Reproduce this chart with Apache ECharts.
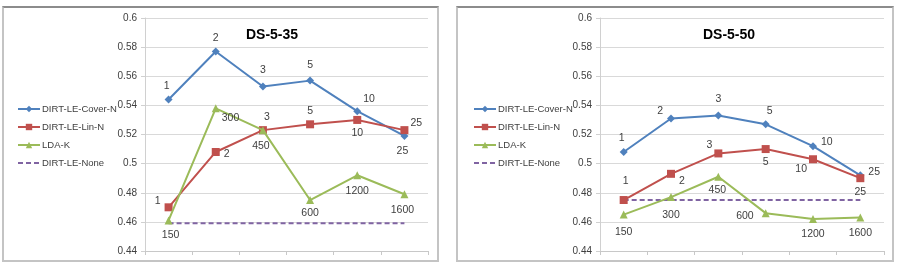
<!DOCTYPE html>
<html>
<head>
<meta charset="utf-8">
<script src="https://cdn.jsdelivr.net/npm/echarts@6/dist/echarts.min.js"></script>
<style>
  body { margin: 0; background: #fff; }
  .panel { position: absolute; top: 6px; height: 252px; border: 2px solid #c4c4c4; border-top-color: #8c8c8c; background: #fff; }
  #left { left: 2px; width: 433px; }
  #right { left: 456px; width: 434px; }
</style>
</head>
<body>
<div id="left" class="panel"></div>
<div id="right" class="panel"></div>
<script>
// 数据
const categories = ['c1', 'c2', 'c3', 'c4', 'c5', 'c6'];
const seriesNames = ['DIRT-LE-Cover-N', 'DIRT-LE-Lin-N', 'LDA-K', 'DIRT-LE-None'];

// DS-5-35
const coverN35 = [0.544, 0.577, 0.553, 0.557, 0.536, 0.519];
const linN35 = [0.470, 0.508, 0.523, 0.527, 0.530, 0.523];
const ldaK35 = [0.461, 0.538, 0.523, 0.475, 0.492, 0.479];
const none35 = [0.459, 0.459, 0.459, 0.459, 0.459, 0.459];

// DS-5-50
const coverN50 = [0.508, 0.531, 0.533, 0.527, 0.512, 0.492];
const linN50 = [0.475, 0.493, 0.507, 0.510, 0.503, 0.490];
const ldaK50 = [0.465, 0.477, 0.491, 0.466, 0.462, 0.463];
const none50 = [0.475, 0.475, 0.475, 0.475, 0.475, 0.475];

// 点标签文字
const nLabels = ['1', '2', '3', '5', '10', '25'];
const kLabels = ['150', '300', '450', '600', '1200', '1600'];

// 标签位置 [position, dx, dy]
const place35 = {
  cover: [['top', -2, 0], ['top', 0, 0], ['top', 0, -3], ['top', 0, -2], ['right', -2, -12], ['bottom', -2, 2]],
  lin: [['left', 0, -6], ['right', 0, 2], ['top', 4, 0], ['top', 0, 0], ['bottom', 0, 0], ['right', -2, -7]],
  lda: [['bottom', 2, 1], ['right', -2, 10], ['bottom', -2, 2], ['bottom', 0, 0], ['bottom', 0, 2], ['bottom', -2, 2]]
};
const place50 = {
  cover: [['top', -2, 0], ['left', 0, -7], ['top', 0, -3], ['top', 4, 0], ['right', 0, -4], ['right', 0, -3]],
  lin: [['top', 2, -5], ['right', 0, 7], ['left', 2, -8], ['bottom', 0, 0], ['left', 2, 10], ['bottom', 0, 0]],
  lda: [['bottom', 0, 4], ['bottom', 0, 4], ['bottom', -1, 0], ['left', -4, 3], ['bottom', 0, 2], ['bottom', 0, 2]]
};

const colors = ['#4f81bd', '#c0504d', '#9bbb59', '#8064a2'];
const font = 'Liberation Sans, Arial, sans-serif';

function points(values, texts, place) {
  return values.map((v, i) => ({
    value: v,
    label: {
      position: place[i][0],
      offset: [place[i][1], place[i][2]],
      formatter: texts[i]
    }
  }));
}

function makeOption(title, titleX, cover, lin, lda, none, place, gridLeft, gridRight, legendLeft) {
  const lineSeries = (idx, data, symbol, size) => ({
    name: seriesNames[idx],
    type: 'line',
    data: data,
    symbol: symbol,
    symbolSize: size,
    lineStyle: { width: 2, color: colors[idx] },
    itemStyle: { color: colors[idx] },
    label: { show: true, fontSize: 10.5, color: '#404040', fontFamily: font, distance: 4 },
    emphasis: { disabled: true },
    z: 3 + idx
  });
  return {
    animation: false,
    title: {
      text: title,
      left: titleX,
      top: 15,
      textAlign: 'center',
      textStyle: { fontSize: 14, fontWeight: 'bold', color: '#000', fontFamily: font }
    },
    legend: {
      orient: 'vertical',
      left: legendLeft,
      top: 91,
      itemWidth: 22,
      itemHeight: 8,
      itemGap: 8,
      data: seriesNames.slice(0, 3).concat([{ name: seriesNames[3], itemStyle: { opacity: 0 } }]),
      textStyle: { fontSize: 9.5, color: '#404040', fontFamily: font, padding: [0, 0, 0, -3] }
    },
    grid: { left: gridLeft, right: gridRight, top: 10, bottom: 9 },
    xAxis: {
      type: 'category',
      data: categories,
      boundaryGap: true,
      axisLine: { lineStyle: { color: '#c8c8c8' } },
      axisTick: { show: true, length: 4, lineStyle: { color: '#c8c8c8' } },
      axisLabel: { show: false },
      splitLine: { show: false }
    },
    yAxis: {
      type: 'value',
      min: 0.44,
      max: 0.6,
      interval: 0.02,
      axisLine: { show: true, lineStyle: { color: '#d0d0d0' } },
      axisTick: { show: true, length: 4, lineStyle: { color: '#d0d0d0' } },
      axisLabel: { fontSize: 10, color: '#404040', fontFamily: font, margin: 8, formatter: v => String(+v.toFixed(2)) },
      splitLine: { lineStyle: { color: '#d9d9d9' } }
    },
    series: [
      lineSeries(0, points(cover, nLabels, place.cover), 'diamond', 8),
      lineSeries(1, points(lin, nLabels, place.lin), 'rect', 8),
      lineSeries(2, points(lda, kLabels, place.lda), 'triangle', 8),
      {
        name: seriesNames[3],
        type: 'line',
        data: none,
        symbol: 'none',
        lineStyle: { width: 2, color: colors[3], type: [5, 3] },
        itemStyle: { color: colors[3] },
        emphasis: { disabled: true },
        z: 2
      }
    ]
  };
}

let leftChart = echarts.init(document.getElementById('left'));
leftChart.setOption(makeOption('DS-5-35', 263, coverN35, linN35, ldaK35, none35, place35, 141, 9, 8));

let rightChart = echarts.init(document.getElementById('right'));
rightChart.setOption(makeOption('DS-5-50', 266, coverN50, linN50, ldaK50, none50, place50, 142, 8, 10));

window.onresize = () => {
  leftChart.resize();
  rightChart.resize();
}
</script>
</body>
</html>
